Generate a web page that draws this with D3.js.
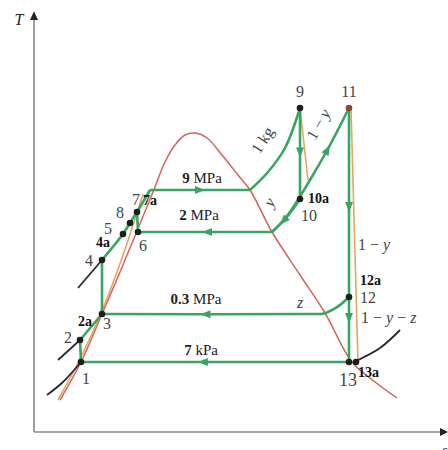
<!DOCTYPE html>
<html><head><meta charset="utf-8">
<script src="https://cdn.jsdelivr.net/npm/d3@7"></script>
<style>body{margin:0;background:#fff}svg{display:block}text{font-family:"Liberation Serif","Times New Roman",serif}</style>
</head><body><svg id="c" width="448" height="450"></svg>
<script>
// ---- data (entropy s, temperature T, arbitrary units) ----
const dome = [[0.65,0.8],[1.175,1.75],[1.7,2.95],[2.15,4.0],[2.575,5.025],[2.975,6.0],[3.275,6.75],[3.525,7.175],[3.775,7.425],[4.025,7.475],[4.325,7.35],[4.7,6.925],[5.1,6.425],[5.4,6.05],[5.95,5.0],[6.65,3.925],[7.275,2.975],[7.95,1.75],[8.525,1.25],[9.075,0.85]];
const states = [["1",1.175,1.75],["2",1.15,2.3],["3",1.7,2.95],["4",1.7,4.3],["5",2.225,4.95],["8",2.4,5.225],["7a",2.575,5.5],["6",2.6,5.0],["9",6.65,8.1],["10",6.65,5.825],["11",7.875,8.1],["12",7.875,3.375],["13",7.875,1.75],["13a",8.05,1.75]];
// ideal processes (green)
const isobar9MPa = [[2.9,6.05],[5.4,6.05]];
const superheat9 = [[5.4,6.05],[5.85,6.5],[6.275,7.1],[6.65,8.1]];
const hpTurbine = [[6.65,8.1],[6.65,5.825]];
const extract10 = [[6.65,5.825],[6.3,5.35],[5.95,5.0]];
const reheat = [[5.95,5.0],[6.325,5.4],[6.9,6.3],[7.4,7.175],[7.875,8.1]];
const isobar2MPa = [[5.95,5.0],[2.6,5.0]];
const lpTurbine = [[7.875,8.1],[7.875,1.75]];
const isobar03MPa = [[7.875,3.375],[7.575,3.12],[7.25,2.965],[6.9,2.95],[1.7,2.95]];
const isobar7kPa = [[7.875,1.75],[1.175,1.75]];
const pump1 = [[1.175,1.75],[1.15,2.3]];
const heater1 = [[1.15,2.3],[1.7,2.95]];
const pump2 = [[1.7,2.95],[1.7,4.3]];
const heater2 = [[1.7,4.3],[2.225,4.95],[2.4,5.225],[2.575,5.5],[2.9,6.05]];
const pump3 = [[2.6,5.0],[2.575,5.5]];
// actual processes (orange)
const actualLiquid = [[0.6,0.8],[1.175,1.875],[1.7,3.025],[2.2,4.35],[2.725,5.95]];
const actualHP = [[6.65,8.1],[6.85,6.3]];
const actualLP = [[7.925,8.1],[8.1,1.725]];
// constant-pressure liquid lines (black)
const iso1 = [[0.325,0.925],[0.725,1.25],[1.175,1.75]];
const iso2 = [[0.6,1.8],[1.15,2.3]];
const iso4 = [[1.1,3.6],[1.7,4.3]];
const iso13 = [[8.0,1.75],[8.65,2.1],[9.15,2.55]];
// flow arrows: [path, fraction along path]
const arrows = [["isobar9MPa",0.5],["isobar2MPa",0.485],["isobar03MPa",0.59],["isobar7kPa",0.545],["hpTurbine",0.49],["lpTurbine",0.39],["lpTurbine",0.827],["reheat",0.68],["extract10",0.63]];
// labels: [text, s, T, kind, anchor]
const labels = [
 ["1",1.3,1.2,"n","middle"],["2",0.85,2.225,"n","middle"],["2a",1.275,2.65,"b","middle"],
 ["3",1.825,2.575,"n","middle"],["4",1.375,4.15,"n","middle"],["4a",1.725,4.625,"b","middle"],
 ["5",1.85,4.95,"n","middle"],["8",2.15,5.35,"n","middle"],["7",2.55,5.675,"n","middle"],
 ["7a",2.9,5.675,"b","middle"],["6",2.725,4.525,"n","middle"],["9",6.65,8.375,"n","middle"],
 ["11",7.875,8.375,"n","middle"],["10a",6.85,5.725,"b","start"],["10",6.875,5.275,"n","middle"],
 ["12a",8.15,3.675,"b","start"],["12",8.15,3.225,"n","start"],["13",7.85,1.15,"n13","middle"],
 ["13a",8.1,1.38,"b","start"]
];
const pressureLabels = [["9","MPa",4.2,6.225],["2","MPa",4.125,5.3],["0.3","MPa",4.05,3.2],["7","kPa",4.175,1.925]];
const flowLabels = [[["1 − ","y"],8.1,4.55,0],[["1 − ","y"," − ","z"],8.175,2.725,0],[["","z"],6.65,3.1,0],[["1 kg"],5.825,7.225,-57],[["1 − ","y"],7.225,7.625,-60],[["","y"],6.0,5.675,-60]];

// ---- drawing ----
const svg = d3.select("#c");
const x = d3.scaleLinear().domain([0,10]).range([34,434]);
const y = d3.scaleLinear().domain([0,10]).range([432,32]);
const line = d3.line().x(d=>x(d[0])).y(d=>y(d[1])).curve(d3.curveCatmullRom.alpha(0.5));
const GREEN="#38a563", RED="#d4625f", ORANGE="#e9a45e", GRAY="#8a8a8a";
const SERIF='"Liberation Serif","Times New Roman",serif';

// axes
svg.append("line").attr("x1",x(0)).attr("y1",y(0)).attr("x2",x(0)).attr("y2",y(10.3)).attr("stroke",GRAY).attr("stroke-width",1.6);
svg.append("line").attr("x1",x(0)).attr("y1",y(0)).attr("x2",x(10.15)).attr("y2",y(0)).attr("stroke",GRAY).attr("stroke-width",1.6);
svg.append("path").attr("d",`M${x(0)},${y(10.52)} L${x(0)-4},${y(10.3)} L${x(0)+4},${y(10.3)} Z`).attr("fill","#222");
svg.append("path").attr("d",`M${x(10.35)},${y(0)} L${x(10.15)},${y(0)-4} L${x(10.15)},${y(0)+4} Z`).attr("fill","#222");
svg.append("text").attr("x",19).attr("y",25).attr("text-anchor","middle").attr("font-family",SERIF).attr("font-style","italic").attr("font-size",16).attr("fill","#222").text("T");
svg.append("text").attr("x",445).attr("y",455).attr("text-anchor","middle").attr("font-family",SERIF).attr("font-style","italic").attr("font-size",14).attr("fill","#222").text("s");

// dome
svg.append("path").attr("d",line(dome)).attr("fill","none").attr("stroke",RED).attr("stroke-width",1.5);
// orange actual
[actualLiquid,actualHP,actualLP].forEach(p=>svg.append("path").attr("d",line(p)).attr("fill","none").attr("stroke",ORANGE).attr("stroke-width",1.6));
// black isobars
[iso1,iso2,iso4,iso13].forEach(p=>svg.append("path").attr("d",line(p)).attr("fill","none").attr("stroke","#2a2a2a").attr("stroke-width",1.8));
// green
const greenPaths = {isobar9MPa,superheat9,hpTurbine,extract10,reheat,isobar2MPa,lpTurbine,isobar03MPa,isobar7kPa,pump1,heater1,pump2,heater2,pump3};
const nodes = {};
Object.entries(greenPaths).forEach(([k,p])=>{
  nodes[k] = svg.append("path").attr("d",line(p)).attr("fill","none").attr("stroke",GREEN).attr("stroke-width",2.6).attr("stroke-linejoin","round").node();
});
// arrows
arrows.forEach(([k,f])=>{
  const n=nodes[k], L=n.getTotalLength();
  const p=n.getPointAtLength(L*f), q=n.getPointAtLength(Math.min(L,L*f+1));
  const a=Math.atan2(q.y-p.y,q.x-p.x)*180/Math.PI;
  svg.append("path").attr("d","M5,0 L-5,-4 L-5,4 Z").attr("fill",GREEN).attr("transform",`translate(${p.x},${p.y}) rotate(${a})`);
});
// dots
svg.selectAll(".dot").data(states).join("circle").attr("cx",d=>x(d[1])).attr("cy",d=>y(d[2])).attr("r",3.3)
  .attr("fill",d=>d[0]==="11"?"#8a4a2a":"#1e1e1e");

// labels
labels.forEach(([t,s,T,k,anc])=>{
  svg.append("text").attr("x",x(s)).attr("y",y(T)).attr("text-anchor",anc)
   .attr("font-family",SERIF).attr("font-size",k==="b"?14:(k==="n13"?18:16))
   .attr("font-weight",k==="b"?"bold":"normal").attr("fill",k==="b"?"#111":"#444").text(t);
});
pressureLabels.forEach(([v,u,s,T])=>{
  const t=svg.append("text").attr("x",x(s)).attr("y",y(T)).attr("text-anchor","middle").attr("font-family",SERIF).attr("font-size",15).attr("fill","#222");
  t.append("tspan").attr("font-weight","bold").text(v);
  t.append("tspan").text(" "+u);
});
flowLabels.forEach(([parts,s,T,r])=>{
  const t=svg.append("text").attr("text-anchor",r?"middle":(parts.length===2&&parts[0]===""?"middle":"start"))
   .attr("transform",`translate(${x(s)},${y(T)}) rotate(${r})`)
   .attr("font-family",SERIF).attr("font-size",16).attr("fill","#444");
  parts.forEach(p=>{ if(p!=="") t.append("tspan").attr("font-style",(p==="y"||p==="z")?"italic":"normal").text(p); });
});
</script></body></html>
